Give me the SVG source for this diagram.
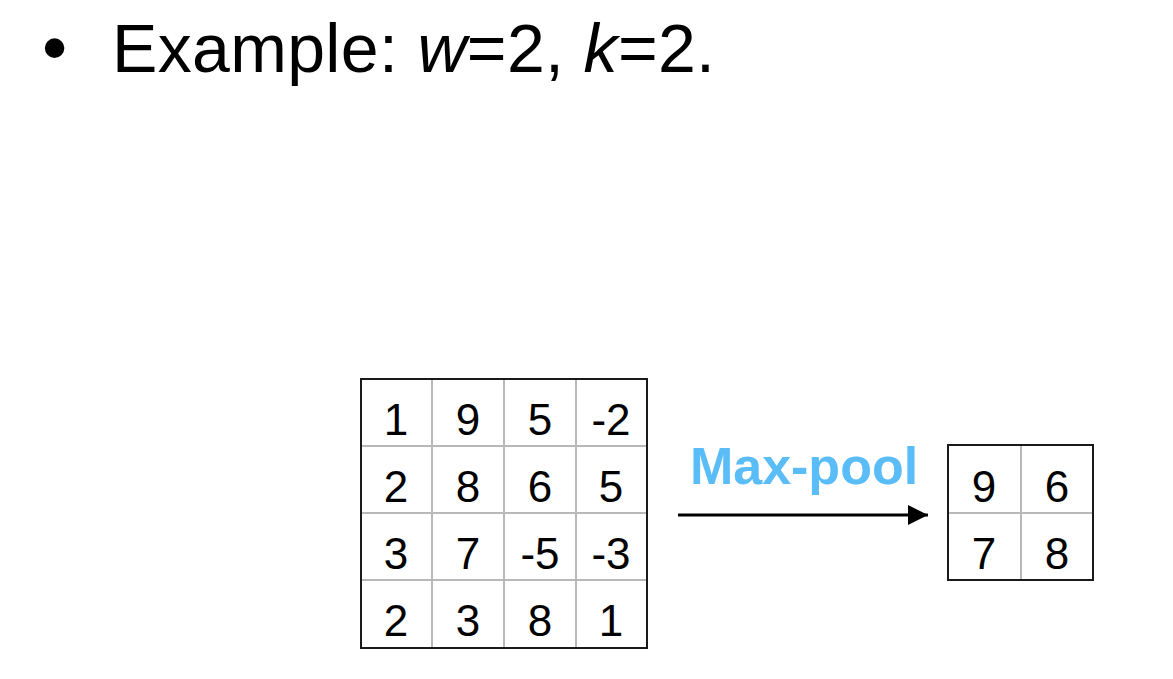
<svg xmlns="http://www.w3.org/2000/svg" width="1173" height="679" viewBox="0 0 1173 679">
<style>
.t{font-family:"Liberation Sans",Arial,sans-serif;fill:#000}
.n{font-family:"Liberation Sans",Arial,sans-serif;font-size:44px;fill:#000;text-anchor:middle}
.g{stroke:#b8b8b8;stroke-width:2;fill:none}
.b{stroke:#1a1a1a;stroke-width:2;fill:none}
</style>
<defs>
<marker id="ah" markerWidth="20" markerHeight="20" refX="20" refY="10" orient="auto" markerUnits="userSpaceOnUse">
<path d="M0,0 L20,10 L0,20 Z" fill="#000"/>
</marker>
</defs>
<g id="title">
<text class="t" x="42" y="72" font-size="72">•</text>
<text class="t" x="112" y="72" font-size="68" textLength="603" lengthAdjust="spacing">Example: <tspan font-style="italic">w</tspan>=2, <tspan font-style="italic">k</tspan>=2.</text>
</g>
<g id="input">
<rect x="361" y="379" width="286" height="269" fill="#fff"/>
<path class="g" d="M432,379V648M504,379V648M576,379V648M361,446H647M361,513H647M361,580H647"/>
<rect class="b" x="361" y="379" width="286" height="269"/>
<text class="n" x="396" y="435">1</text><text class="n" x="468" y="435">9</text><text class="n" x="540" y="435">5</text><text class="n" x="611" y="435">-2</text>
<text class="n" x="396" y="502">2</text><text class="n" x="468" y="502">8</text><text class="n" x="540" y="502">6</text><text class="n" x="611" y="502">5</text>
<text class="n" x="396" y="569">3</text><text class="n" x="468" y="569">7</text><text class="n" x="540" y="569">-5</text><text class="n" x="611" y="569">-3</text>
<text class="n" x="396" y="636">2</text><text class="n" x="468" y="636">3</text><text class="n" x="540" y="636">8</text><text class="n" x="611" y="636">1</text>
</g>
<g id="output">
<rect x="948" y="445" width="145" height="135" fill="#fff"/>
<path class="g" d="M1021,445V580M948,513H1093"/>
<rect class="b" x="948" y="445" width="145" height="135"/>
<text class="n" x="984" y="502">9</text><text class="n" x="1057" y="502">6</text>
<text class="n" x="984" y="569">7</text><text class="n" x="1057" y="569">8</text>
</g>
<g id="connectors">
<line x1="678" y1="515" x2="928" y2="515" stroke="#000" stroke-width="3" marker-end="url(#ah)"/>
<text x="804" y="484" text-anchor="middle" font-family="Liberation Sans,Arial,sans-serif" font-weight="bold" font-size="52" fill="#5bbdf7">Max-pool</text>
</g>
</svg>
